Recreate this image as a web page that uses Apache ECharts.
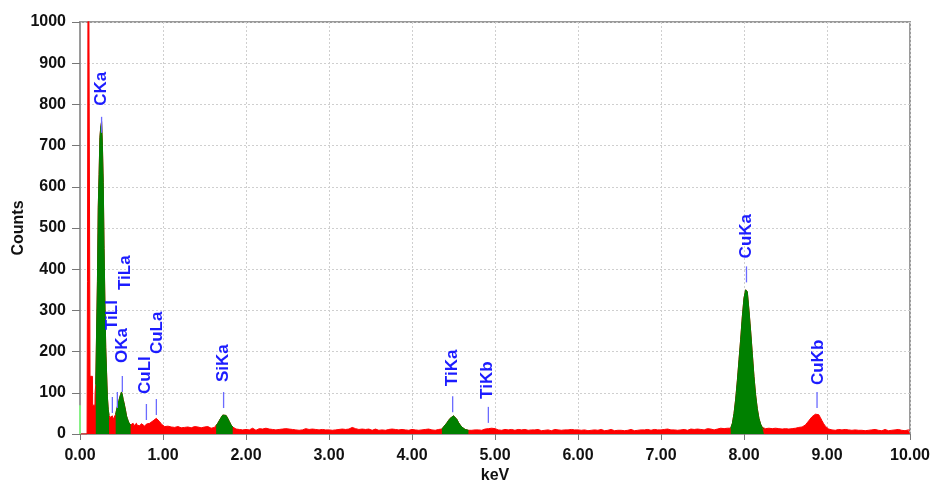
<!DOCTYPE html>
<html>
<head>
<meta charset="utf-8">
<script src="https://cdn.jsdelivr.net/npm/echarts@6/dist/echarts.min.js"></script>
<style>html,body{margin:0;padding:0;background:#fff}#c{width:933px;height:483px}</style>
</head>
<body>
<div id="c"></div>
<script>
// ---- data ----
// low-energy part (keV, counts)
const lowEnergy = [0, 0.085, 0.09, 0.098, 0.10, 0.118, 0.121, 0.15, 0.152, 0.18, 0.182,
  0.19, 0.20, 0.21, 0.22, 0.23, 0.24, 0.25, 0.26, 0.27, 0.28, 0.29, 0.30, 0.31, 0.32, 0.33, 0.34, 0.35,
  0.36, 0.37, 0.38, 0.39, 0.40, 0.41, 0.42,
  0.43, 0.44, 0.45, 0.46, 0.47, 0.48, 0.49, 0.50, 0.51, 0.52, 0.53, 0.54, 0.55, 0.56, 0.57, 0.58, 0.59, 0.60, 0.61,
  0.62, 0.63, 0.64, 0.65, 0.66, 0.67, 0.68, 0.69, 0.70];
const lowCounts = [0, 0, 370, 370, 1500, 1500, 140, 140, 70, 70, 100,
  120, 250, 370, 550, 630, 720, 745, 758, 700, 610, 450, 320, 210, 150, 90, 60, 45,
  40, 42, 36, 44, 35, 40, 44,
  48, 58, 66, 74, 82, 90, 96, 102, 95, 84, 76, 66, 56, 44, 38, 32, 27, 24, 22,
  25, 21, 26, 20, 24, 22, 26, 21, 23];
// rest of the spectrum: channels from 0.72 keV, 0.02 keV wide
const bgStart = 0.72;
const bgStep = 0.02;
const bgCounts = [
  20, 25, 22, 19, 24, 21, 26, 28, 32, 36, 38, 34, 30, 24,
  21, 18, 16, 19, 15, 17, 20, 16, 14, 18, 17, 15, 19, 16, 14, 17, 20, 15, 16, 18, 14, 17, 19, 15, 16,
  17, 15, 18, 16, 14, 17, 16, 20, 26, 33, 40, 46, 48, 45, 38, 30, 22, 17, 13, 12, 14, 11, 13, 10, 12,
  11, 13, 10, 12, 14, 11, 9, 12, 13, 10, 12, 11, 14, 10, 12, 9, 11, 13, 10, 12, 11, 9, 12, 10, 13,
  10, 12, 9, 11, 13, 10, 12, 9, 11, 10, 12, 13, 9, 11, 10, 12, 9, 11, 12, 10, 9, 11, 13, 10, 11,
  10, 12, 9, 11, 10, 12, 11, 9, 12, 10, 11, 13, 12, 14, 16, 15, 13, 12, 11, 10, 12, 9, 11, 10, 12,
  10, 9, 11, 12, 10, 9, 11, 10, 12, 9, 10, 11, 9, 12, 10, 11, 9, 10, 12, 11, 9, 10, 11, 9, 10,
  11, 9, 10, 12, 9, 11, 10, 9, 11, 10, 12, 9, 10, 11, 9, 10, 11, 10, 12, 17, 22, 27, 33, 38, 42,
  44, 43, 36, 28, 22, 17, 14, 11, 10, 9, 10, 9, 11, 10, 8, 10, 11, 9, 10, 12, 11, 13, 12, 14, 12,
  13, 11, 10, 12, 9, 10, 11, 9, 10, 8, 11, 10, 9, 10, 11, 9, 10, 8, 11, 10, 9, 11, 10, 8, 10,
  9, 11, 10, 8, 10, 9, 11, 10, 9, 8, 10, 11, 9, 10, 8, 9, 11, 10, 9, 10, 8, 11, 9, 10, 9,
  10, 8, 9, 11, 10, 9, 8, 10, 9, 11, 10, 8, 9, 10, 11, 9, 8, 10, 9, 10, 11, 9, 8, 10, 9,
  10, 9, 11, 8, 10, 9, 10, 11, 9, 8, 10, 9, 11, 10, 9, 10, 8, 11, 10, 9, 10, 11, 9, 10, 11,
  10, 9, 11, 10, 12, 9, 10, 11, 10, 12, 9, 11, 10, 12, 11, 10, 9, 11, 12, 10, 11, 9, 12, 10, 11,
  12, 10, 11, 13, 10, 12, 11, 10, 13, 12, 11, 14, 12, 13, 11, 14, 12, 14, 26, 50, 85, 130, 180, 230, 285,
  330, 350, 345, 300, 250, 195, 140, 95, 62, 38, 24, 16, 12, 13, 11, 14, 12, 13, 11, 14, 12, 13, 15, 12, 14,
  13, 15, 12, 14, 13, 15, 14, 13, 16, 15, 17, 18, 22, 27, 32, 36, 42, 46, 48, 50, 47, 40, 32, 25, 19,
  15, 12, 11, 10, 12, 9, 10, 11, 9, 10, 8, 11, 9, 10, 8, 9, 11, 10, 8, 9, 10, 9, 11, 8, 10,
  9, 8, 10, 9, 11, 8, 9, 10, 8, 9, 11, 9, 8, 10, 9, 8, 10, 9, 11, 8, 9, 10, 8, 9, 10,
  9
];
// identified peaks (green), energy windows in keV
const peakWindows = [[0.19, 0.35], [0.43, 0.61], [1.64, 1.84], [4.36, 4.68], [7.84, 8.24]];
// peak labels
const labelNames = ['CKa', 'TiLl', 'TiLa', 'OKa', 'CuLl', 'CuLa', 'SiKa', 'TiKa', 'TiKb', 'CuKa', 'CuKb'];
const labelEnergies = [0.26, 0.39, 0.45, 0.51, 0.80, 0.92, 1.73, 4.49, 4.92, 8.03, 8.88];
const labelCounts = [731, 51, 63, 102, 34, 46, 63, 53, 27, 368, 63];

// ---- styles ----
const labelGap = [11, 67, 102, 13, 10, 45, 10, 10, 8, 8, 7];   // px between tick top and text
const labelDx = [0, 0, 8, 0, -1, 1, 0, 0, -1, 0, 1];           // px
const tickLen = 16;

// ---- build ----
const spectrum = [];
lowEnergy.forEach((e, i) => spectrum.push([e, lowCounts[i]]));
bgCounts.forEach((c, i) => spectrum.push([+(bgStart + i * bgStep).toFixed(2), c]));
const inPeak = e => peakWindows.some(w => e >= w[0] - 1e-9 && e <= w[1] + 1e-9);
const greenData = spectrum.map(p => inPeak(p[0]) ? p : [p[0], null]);
const labelData = labelEnergies.map((e, i) => [e, labelCounts[i], i]);

const axisFont = {fontFamily: '"Liberation Sans", Arial, sans-serif', fontWeight: 'bold', fontSize: 16, color: '#111'};

const chart = echarts.init(document.getElementById('c'), null, {renderer: 'canvas'});
chart.setOption({
  animation: false,
  backgroundColor: '#fff',
  grid: {left: 80, right: 23, top: 22, bottom: 49, show: true, borderColor: '#9a9a9a', borderWidth: 2,
         containLabel: false, outerBoundsMode: 'none'},
  xAxis: {
    type: 'value', min: 0, max: 10, interval: 1,
    name: 'keV', nameLocation: 'middle', nameGap: 34, nameMoveOverlap: false,
    nameTextStyle: Object.assign({}, axisFont),
    axisLine: {show: true, onZero: false, lineStyle: {color: '#9a9a9a', width: 2}},
    axisTick: {show: true, length: 6, lineStyle: {color: '#777'}},
    axisLabel: Object.assign({margin: 14, formatter: v => v.toFixed(2)}, axisFont),
    splitLine: {show: true, lineStyle: {color: '#cfcfcf', type: [2, 2], width: 1}}
  },
  yAxis: {
    type: 'value', min: 0, max: 1000, interval: 100,
    name: 'Counts', nameLocation: 'middle', nameGap: 53, nameMoveOverlap: false,
    nameTextStyle: Object.assign({}, axisFont),
    axisLine: {show: true, lineStyle: {color: '#9a9a9a', width: 2}},
    axisTick: {show: true, length: 8, lineStyle: {color: '#777'}},
    axisLabel: Object.assign({margin: 14, formatter: v => String(v)}, axisFont),
    splitLine: {show: true, lineStyle: {color: '#cfcfcf', type: [2, 2], width: 1}}
  },
  series: [
    {
      type: 'line', data: spectrum, showSymbol: false, symbol: 'none', clip: true,
      lineStyle: {color: '#ff0000', width: 1}, areaStyle: {color: '#ff0000', opacity: 1}, z: 2
    },
    {
      type: 'line', data: greenData, showSymbol: false, symbol: 'none', clip: true, connectNulls: false,
      lineStyle: {color: '#008000', width: 1}, areaStyle: {color: '#008000', opacity: 1}, z: 3,
      markLine: {
        silent: true, symbol: 'none', label: {show: false},
        lineStyle: {color: '#86f086', width: 2, type: 'solid'},
        data: [[{coord: [0, 0]}, {coord: [0, 70]}]]
      }
    },
    {
      type: 'custom', data: labelData, clip: false, z: 10, silent: true,
      renderItem: function (params, api) {
        const i = api.value(2);
        const p = api.coord([api.value(0), api.value(1)]);
        const top = p[1] - tickLen;
        return {
          type: 'group',
          children: [
            {type: 'line', shape: {x1: p[0], y1: p[1], x2: p[0], y2: top},
             style: {stroke: '#6b6bff', lineWidth: 1.3}},
            {type: 'text', x: p[0] + labelDx[i], y: top - labelGap[i], rotation: Math.PI / 2,
             style: {text: labelNames[i], fill: '#1c1cff', font: 'bold 17px "Liberation Sans", Arial, sans-serif',
                     align: 'left', verticalAlign: 'middle'}}
          ]
        };
      }
    }
  ]
});
</script>
</body>
</html>
